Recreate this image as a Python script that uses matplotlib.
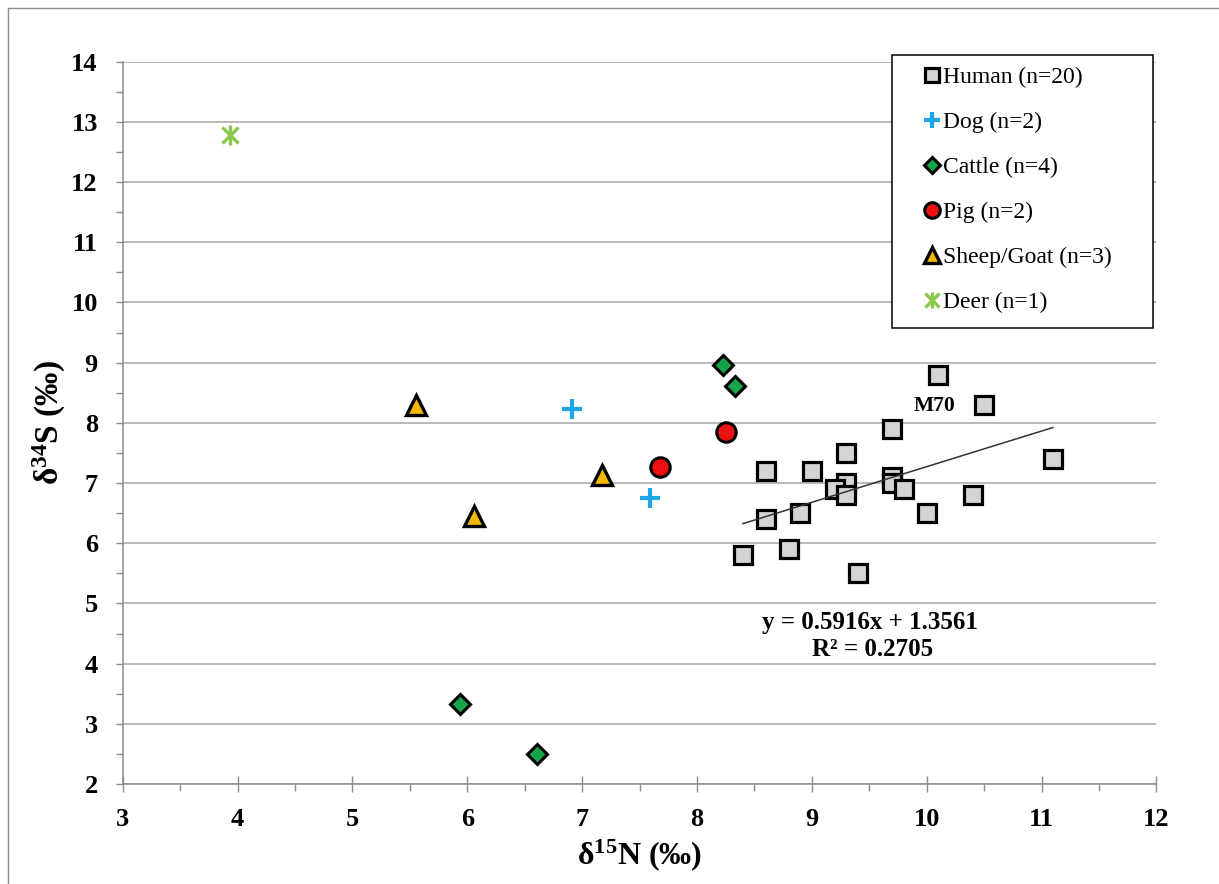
import numpy as np
import matplotlib
matplotlib.use("Agg")
import matplotlib.pyplot as plt
from matplotlib.lines import Line2D
from matplotlib.patches import Rectangle
from matplotlib.legend_handler import HandlerTuple

plt.rcParams['font.family'] = ['Liberation Serif', 'DejaVu Serif']
plt.rcParams['mathtext.fontset'] = 'custom'
plt.rcParams['mathtext.rm'] = 'Liberation Serif:bold'
plt.rcParams['mathtext.bf'] = 'Liberation Serif:bold'
plt.rcParams['mathtext.it'] = 'Liberation Serif:bold'

# data (d15N, d34S)
human_n = [10.1, 10.5, 9.7, 9.3, 8.6, 9.0, 11.1, 9.3, 9.2, 9.3,
           9.7, 9.7, 9.8, 10.4, 10.0, 8.9, 8.6, 8.8, 8.4, 9.4]
human_s = [8.8, 8.3, 7.9, 7.5, 7.2, 7.2, 7.4, 7.0, 6.9, 6.8,
           7.1, 7.0, 6.9, 6.8, 6.5, 6.5, 6.4, 5.9, 5.8, 5.5]
dog_n = [6.91, 7.59]
dog_s = [8.23, 6.76]
cattle_n = [8.23, 8.33, 5.94, 6.61]
cattle_s = [8.96, 8.61, 3.33, 2.50]
pig_n = [8.25, 7.68]
pig_s = [7.84, 7.27]
sheep_n = [5.55, 7.17, 6.06]
sheep_s = [8.30, 7.13, 6.46]
deer_n = [3.93]
deer_s = [12.78]

# trendline through the human values, as printed on the chart
slope = 0.5916
intercept = 1.3561
r2 = 0.2705

fig = plt.figure(figsize=(12.19, 8.84), dpi=100)
ax = fig.add_axes([0.1007, 0.1131, 0.8479, 0.8171])

# outer frame of the original picture (top and left only)
fig.add_artist(Line2D([0.0066, 1.0], [0.991, 0.991], transform=fig.transFigure, color='#8c8c8c', lw=1))
fig.add_artist(Line2D([0.0066, 0.0066], [0.0, 0.991], transform=fig.transFigure, color='#8c8c8c', lw=1))

ax.set_xlim(3, 12)
ax.set_ylim(2, 14)
ax.set_xticks(np.arange(3, 13, 1))
ax.set_xticks(np.arange(3.5, 12, 1), minor=True)
ax.set_yticks(np.arange(2, 15, 1))
ax.set_yticks(np.arange(2.5, 14, 1), minor=True)
ax.grid(axis='y', which='major', color='#a6a6a6', lw=1.1)
ax.set_axisbelow(True)

for side in ['top', 'right']:
    ax.spines[side].set_visible(False)
for side in ['left', 'bottom']:
    ax.spines[side].set_color('#8c8c8c')
    ax.spines[side].set_linewidth(1.1)

ax.tick_params(axis='x', which='major', direction='inout', length=11, width=1, color='#8c8c8c',
               labelsize=19, pad=12)
ax.tick_params(axis='x', which='minor', direction='out', length=5, width=1, color='#8c8c8c')
ax.tick_params(axis='y', which='major', direction='out', length=5, width=1, color='#8c8c8c',
               labelsize=19, pad=13)
ax.tick_params(axis='y', which='minor', direction='out', length=5, width=1, color='#8c8c8c')
for lab in ax.get_xticklabels() + ax.get_yticklabels():
    lab.set_fontweight('bold')

ax.set_xlabel('δ$^{15}$N (‰)', fontsize=23, fontweight='bold', labelpad=4)
ax.set_ylabel('δ$^{34}$S (‰)', fontsize=24, fontweight='bold', labelpad=2)

h_human, = ax.plot(human_n, human_s, ls='none', marker='s', ms=13, mfc='#d4d4d4', mec='black', mew=2.3,
                   zorder=3)
h_dog, = ax.plot(dog_n, dog_s, ls='none', marker='+', ms=14, mec='#1aa7e8', mew=3, zorder=3)
h_cattle, = ax.plot(cattle_n, cattle_s, ls='none', marker='D', ms=10, mfc='#16a34a', mec='black', mew=2.2,
                    zorder=3)
h_pig, = ax.plot(pig_n, pig_s, ls='none', marker='o', ms=14, mfc='#ee1111', mec='black', mew=2.2, zorder=3)
h_sheep, = ax.plot(sheep_n, sheep_s, ls='none', marker='^', ms=14, mfc='#f5b800', mec='black', mew=2.4,
                   zorder=3)
h_deer1, = ax.plot(deer_n, deer_s, ls='none', marker='x', ms=12, mec='#8cc84b', mew=2.4, zorder=3)
h_deer2, = ax.plot(deer_n, deer_s, ls='none', marker='|', ms=15, mec='#8cc84b', mew=2.4, zorder=3)

xfit = np.array([min(human_n), max(human_n)])
ax.plot(xfit, slope * xfit + intercept, color='#333333', lw=1.1, zorder=4)

ax.text(9.507, 4.68, f'y = {slope}x + {intercept}', fontsize=18, fontweight='bold',
        ha='center', va='center')
ax.text(9.525, 4.23, f'R² = {r2}', fontsize=18, fontweight='bold', ha='center', va='center')
ax.text(10.07, 8.28, 'M70', fontsize=15.5, fontweight='bold', ha='center', va='center')

# legend box drawn separately so the entries can sit inset like the original
ax.add_patch(Rectangle((0.744, 0.631), 0.2526, 0.378, transform=ax.transAxes, fill=True,
                       facecolor='white', edgecolor='black', lw=1.1, clip_on=False, zorder=5))
leg = ax.legend([h_human, h_dog, h_cattle, h_pig, h_sheep, (h_deer1, h_deer2)],
                ['Human (n=20)', 'Dog (n=2)', 'Cattle (n=4)', 'Pig (n=2)', 'Sheep/Goat (n=3)', 'Deer (n=1)'],
                handler_map={tuple: HandlerTuple(ndivide=1, pad=0)},
                loc='upper left', bbox_to_anchor=(0.774, 0.993), frameon=False,
                borderaxespad=0, borderpad=0, fontsize=17, markerscale=0.8, handlelength=0.8,
                handletextpad=0.05, labelspacing=0.99)
leg.set_zorder(6)

fig.savefig('out.png', dpi=100)
